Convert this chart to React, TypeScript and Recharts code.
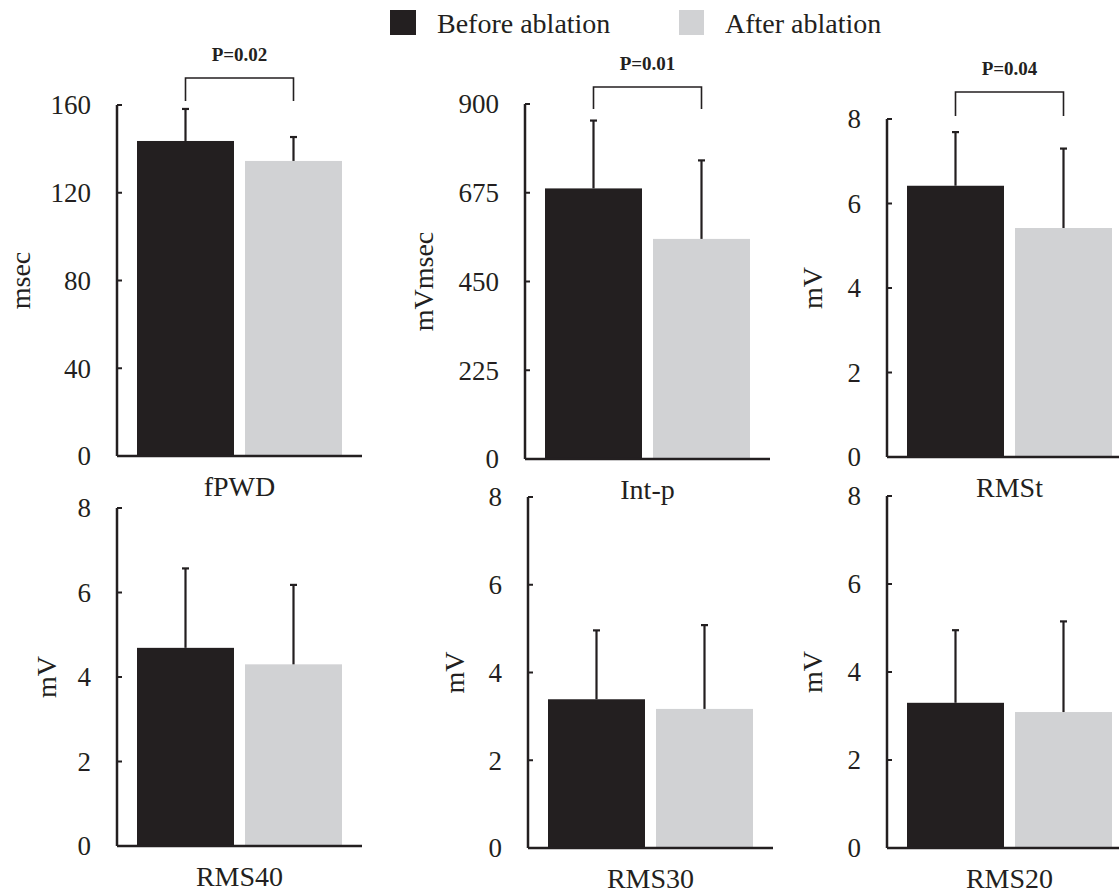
import React from "react";
import { BarChart, Bar, XAxis, YAxis } from "recharts";

const categories = ["fPWD", "Int-p", "RMSt", "RMS40", "RMS30", "RMS20"];
const units = ["msec", "mVmsec", "mV", "mV", "mV", "mV"];
const beforeMean = [143.6, 686, 6.42, 4.69, 3.39, 3.3];
const beforeSd = [14.6, 172, 1.27, 1.88, 1.57, 1.65];
const afterMean = [134.5, 558, 5.42, 4.3, 3.17, 3.09];
const afterSd = [10.9, 199, 1.88, 1.88, 1.91, 2.06];
const yTicks = [
  [0, 40, 80, 120, 160],
  [0, 225, 450, 675, 900],
  [0, 2, 4, 6, 8],
  [0, 2, 4, 6, 8],
  [0, 2, 4, 6, 8],
  [0, 2, 4, 6, 8],
];
const pLabels = ["P=0.02", "P=0.01", "P=0.04", "", "", ""];

const FONT = '"Liberation Serif", "Times New Roman", Times, serif';
const DARK = "#231f20";
const GRAY = "#d1d2d4";

// panel placement in page pixels
const layouts = [
  { axisX: 117, top: 105, bottom: 456, labelX: 20, bracketTop: 78, legEnd: 101 },
  { axisX: 525, top: 104, bottom: 459, labelX: 423, bracketTop: 87, legEnd: 109 },
  { axisX: 887, top: 119, bottom: 457, labelX: 812, bracketTop: 92, legEnd: 116 },
  { axisX: 117, top: 508, bottom: 846, labelX: 46, bracketTop: 0, legEnd: 0 },
  { axisX: 528, top: 497, bottom: 848, labelX: 454, bracketTop: 0, legEnd: 0 },
  { axisX: 887, top: 496, bottom: 848, labelX: 812, bracketTop: 0, legEnd: 0 },
];

const PLOT_W = 245;
const BAR = 97;
const GAP = 11;
const MT = 80;
const MB = 46;

const BarWithError = (props: any) => {
  const { x, y, width, height, fill, payload, valueKey, sdKey } = props;
  const v = payload[valueKey];
  const sd = payload[sdKey];
  const cx = x + width / 2;
  const errY = y - (sd * height) / v;
  return (
    <g>
      <rect x={x} y={y} width={width} height={height} fill={fill} />
      <line x1={cx} x2={cx} y1={y} y2={errY} stroke={DARK} strokeWidth={2.2} />
      <line x1={cx - 3.5} x2={cx + 3.5} y1={errY} y2={errY} stroke={DARK} strokeWidth={2.2} />
    </g>
  );
};

const YTick = (props: any) => {
  const { x, y, payload } = props;
  return (
    <g>
      <line x1={x + 26} x2={x + 31} y1={y} y2={y} stroke={DARK} strokeWidth={2} />
      <text
        x={x}
        y={y}
        dy="0.35em"
        textAnchor="end"
        style={{ fontFamily: FONT, fontSize: 27 }}
        fill={DARK}
      >
        {payload.value}
      </text>
    </g>
  );
};

const XTick = (props: any) => {
  const { x, y, payload } = props;
  return (
    <text
      x={x}
      y={y + 20}
      textAnchor="middle"
      style={{ fontFamily: FONT, fontSize: 28 }}
      fill={DARK}
    >
      {payload.value}
    </text>
  );
};

function Panel({ idx }: { idx: number }) {
  const lay = layouts[idx];
  const plotH = lay.bottom - lay.top;
  const chartLeft = lay.labelX - 30;
  const yw = lay.axisX - chartLeft;
  const W = yw + PLOT_W;
  const H = MT + plotH + MB;
  const ticks = yTicks[idx];
  const data = [
    {
      name: categories[idx],
      before: beforeMean[idx],
      after: afterMean[idx],
      beforeSd: beforeSd[idx],
      afterSd: afterSd[idx],
    },
  ];
  const offTop = lay.top - MT;
  const lx = yw + (PLOT_W - 2 * BAR - GAP) / 2 + BAR / 2;
  const rx = lx + BAR + GAP;

  return (
    <div style={{ position: "absolute", left: chartLeft, top: offTop, width: W, height: H }}>
      <BarChart
        width={W}
        height={H}
        data={data}
        margin={{ top: MT, right: 0, bottom: 0, left: 0 }}
        barGap={GAP}
        barSize={BAR}
      >
        <XAxis
          dataKey="name"
          height={MB}
          axisLine={{ stroke: DARK, strokeWidth: 2.5 }}
          tickLine={false}
          tickSize={0}
          tickMargin={20}
          tick={<XTick />}
        />
        <YAxis
          width={yw}
          domain={[0, ticks[ticks.length - 1]]}
          ticks={ticks}
          interval={0}
          axisLine={{ stroke: DARK, strokeWidth: 2.5 }}
          tickLine={false}
          tickSize={0}
          tickMargin={26}
          tick={<YTick />}
          label={{
            content: () => (
              <text
                x={30}
                y={MT + plotH / 2}
                transform={`rotate(-90 30 ${MT + plotH / 2})`}
                textAnchor="middle"
                dy="0.35em"
                style={{ fontFamily: FONT, fontSize: 28 }}
                fill={DARK}
              >
                {units[idx]}
              </text>
            ),
          }}
        />
        <Bar
          dataKey="before"
          fill={DARK}
          isAnimationActive={false}
          shape={(p: any) => <BarWithError {...p} valueKey="before" sdKey="beforeSd" />}
        />
        <Bar
          dataKey="after"
          fill={GRAY}
          isAnimationActive={false}
          shape={(p: any) => <BarWithError {...p} valueKey="after" sdKey="afterSd" />}
        />
      </BarChart>
      {pLabels[idx] && (
        <svg
          width={W}
          height={H}
          style={{ position: "absolute", left: 0, top: 0, pointerEvents: "none", overflow: "visible" }}
        >
          <polyline
            points={`${lx},${lay.legEnd - offTop} ${lx},${lay.bracketTop - offTop} ${rx},${lay.bracketTop - offTop} ${rx},${lay.legEnd - offTop}`}
            fill="none"
            stroke={DARK}
            strokeWidth={1.6}
          />
          <text
            x={(lx + rx) / 2}
            y={lay.bracketTop - offTop - 17}
            textAnchor="middle"
            style={{ fontFamily: FONT, fontSize: 19, fontWeight: "bold" }}
            fill={DARK}
          >
            {pLabels[idx]}
          </text>
        </svg>
      )}
    </div>
  );
}

export default function App() {
  return (
    <div
      style={{
        position: "absolute",
        left: 0,
        top: 0,
        width: 1119,
        height: 893,
        overflow: "hidden",
        background: "#ffffff",
      }}
    >
      {categories.map((_, i) => (
        <Panel key={i} idx={i} />
      ))}
      <svg width={1119} height={50} style={{ position: "absolute", left: 0, top: 0 }}>
        <rect x={390} y={10} width={26} height={25} fill={DARK} />
        <text x={437} y={33} style={{ fontFamily: FONT, fontSize: 28 }} fill={DARK}>
          Before ablation
        </text>
        <rect x={679} y={10} width={25} height={25} fill={GRAY} />
        <text x={725} y={33} style={{ fontFamily: FONT, fontSize: 28 }} fill={DARK}>
          After ablation
        </text>
      </svg>
    </div>
  );
}
